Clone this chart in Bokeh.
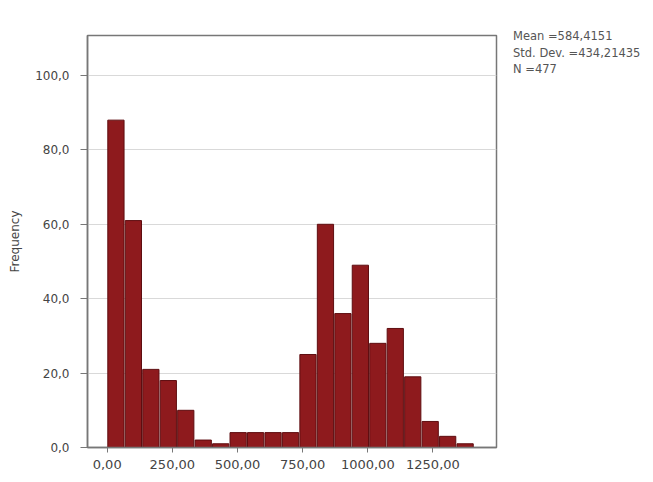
from bokeh.plotting import figure
from bokeh.models import Range1d, FixedTicker, Div
from bokeh.layouts import row
from bokeh.embed import file_html
from bokeh.resources import INLINE

# ---- data ----
bin_start = 0.0
bin_width = 67.0
frequencies = [88, 61, 21, 18, 10, 2, 1, 4, 4, 4, 4, 25, 60, 36, 49, 28, 32, 19, 7, 3, 1]
x_ticks = [0, 250, 500, 750, 1000, 1250]
x_tick_labels = ["0,00", "250,00", "500,00", "750,00", "1000,00", "1250,00"]
y_ticks = [0, 20, 40, 60, 80, 100]
y_tick_labels = ["0,0", "20,0", "40,0", "60,0", "80,0", "100,0"]
stats_lines = ["Mean =584,4151", "Std. Dev. =434,21435", "N =477"]

centers = [bin_start + bin_width * (i + 0.5) for i in range(len(frequencies))]

FONT = "DejaVu Sans"

p = figure(width=505, height=474, output_backend="svg", toolbar_location=None,
           x_range=Range1d(-75.6, 1493.9), y_range=Range1d(0, 110.75),
           min_border_left=87, min_border_top=35, min_border_right=9,
           min_border_bottom=27)

p.vbar(x=centers, top=frequencies, width=bin_width * 0.93, bottom=0,
       fill_color="#8e1a1d", line_color="#5e0d10", line_width=1)

p.background_fill_color = "white"
p.border_fill_color = "white"
p.outline_line_color = "#777777"
p.outline_line_width = 1.5

p.xgrid.grid_line_color = None
p.ygrid.grid_line_color = "#d9d9d9"
p.ygrid.grid_line_width = 1

p.xaxis.ticker = FixedTicker(ticks=x_ticks)
p.xaxis.major_label_overrides = dict(zip(x_ticks, x_tick_labels))
p.yaxis.ticker = FixedTicker(ticks=y_ticks)
p.yaxis.major_label_overrides = dict(zip(y_ticks, y_tick_labels))

for ax in (p.xaxis, p.yaxis):
    ax.axis_line_color = "#777777"
    ax.axis_line_width = 1.5
    ax.major_tick_line_color = "#777777"
    ax.major_tick_in = 0
    ax.minor_tick_line_color = None
    ax.major_label_text_font = FONT
    ax.major_label_text_color = "#444444"

p.xaxis.major_tick_out = 5
p.xaxis.major_label_standoff = 7
p.xaxis.major_label_text_font_size = "13px"

p.yaxis.major_tick_out = 7
p.yaxis.major_label_standoff = 11
p.yaxis.major_label_text_font_size = "12px"
p.yaxis.axis_label = "Frequency"
p.yaxis.axis_label_text_font = FONT
p.yaxis.axis_label_text_font_size = "12px"
p.yaxis.axis_label_text_font_style = "normal"
p.yaxis.axis_label_text_color = "#444444"
p.yaxis.axis_label_standoff = 10

# summary statistics to the right of the chart
stats_html = "<br>".join(stats_lines)
stats = Div(
    text=('<div style="font-family: \'DejaVu Sans\'; font-size: 11.5px; '
          'line-height: 16.5px; color: #555555; padding-top: 28px; '
          'padding-left: 8px; white-space: nowrap; margin: 0;">'
          + stats_html + '</div>'),
    width=140, height=474, margin=0)

layout = row(p, stats, spacing=0)
open("out.html", "w").write(file_html(layout, INLINE))
